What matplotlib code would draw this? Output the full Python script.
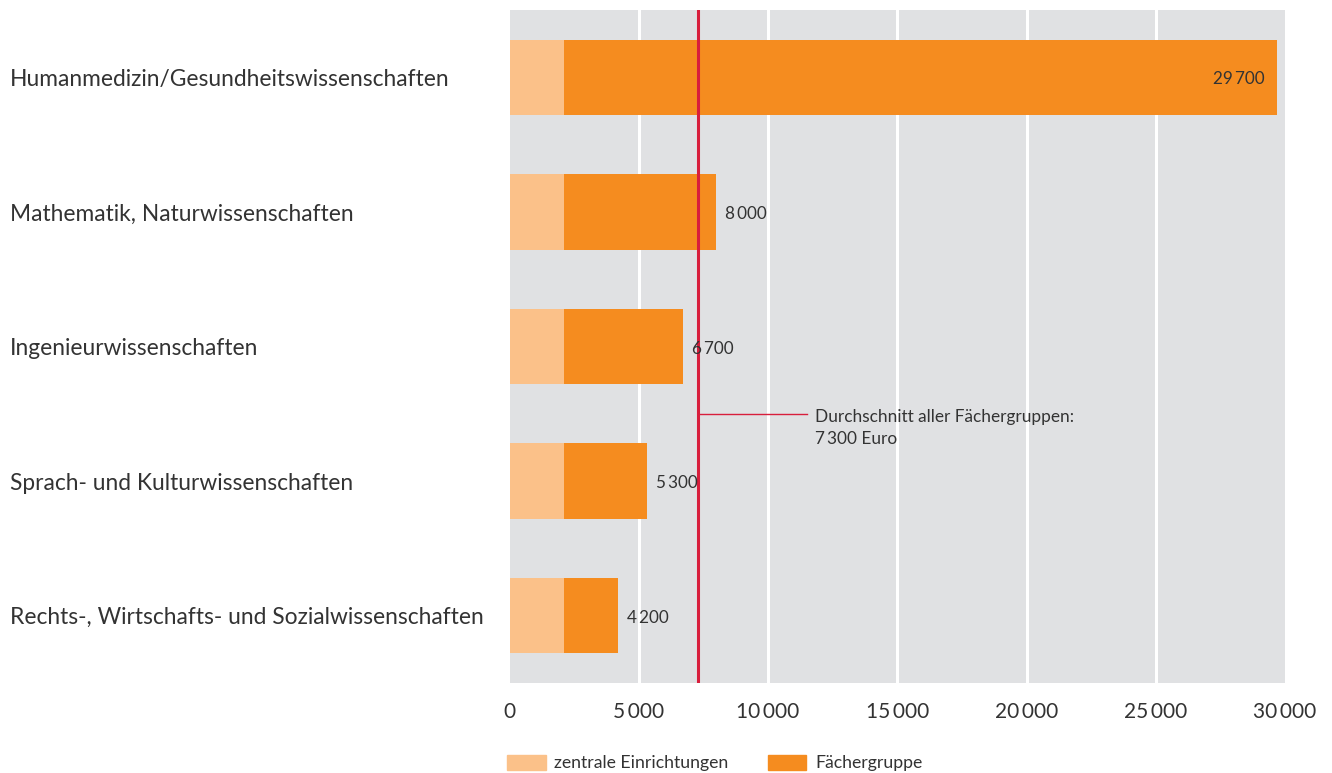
import numpy as np
import matplotlib.pyplot as plt
from matplotlib.patches import Patch

plt.rcParams['font.family'] = ['Lato', 'DejaVu Sans']

categories = [
    'Humanmedizin/Gesundheitswissenschaften',
    'Mathematik, Naturwissenschaften',
    'Ingenieurwissenschaften',
    'Sprach- und Kulturwissenschaften',
    'Rechts-, Wirtschafts- und Sozialwissenschaften',
]
totals = [29700, 8000, 6700, 5300, 4200]
central = [2100, 2100, 2100, 2100, 2100]
average = 7300
series_names = ['zentrale Einrichtungen', 'Fächergruppe']

LIGHT = '#FBC189'
DARK = '#F58C1F'
GREY = '#E0E1E3'
RED = '#D81E3C'
TXT = '#333333'


def fmt(v):
    s = f'{int(v):,}'.replace(',', '\u2009')
    return s


def main():
    fig = plt.figure(figsize=(13.32, 7.73), dpi=100)
    ax = fig.add_axes([509.5 / 1332, 1 - 683 / 773, 775.5 / 1332, 673 / 773])
    ax.set_facecolor(GREY)
    for s in ax.spines.values():
        s.set_visible(False)

    y = np.arange(len(categories))
    rest = [t - c for t, c in zip(totals, central)]
    h = 0.56
    ax.barh(y, central, h, color=LIGHT, zorder=2)
    ax.barh(y, rest, h, left=central, color=DARK, zorder=2)

    ax.set_xlim(0, 30000)
    ax.set_ylim(len(categories) - 0.5, -0.5)
    xt = np.arange(0, 30001, 5000)
    ax.set_xticks(xt)
    ax.set_xticklabels([fmt(v) for v in xt], fontsize=15, color=TXT)
    ax.xaxis.grid(True, color='white', linewidth=2.2, zorder=1)
    ax.get_xgridlines()[0].set_visible(False)
    ax.get_xgridlines()[-1].set_visible(False)
    ax.set_axisbelow(True)
    ax.tick_params(axis='x', length=0, pad=14)

    ax.set_yticks(y)
    ax.set_yticklabels(categories, fontsize=16.4, color=TXT, ha='left')
    ax.tick_params(axis='y', length=0, pad=(509.5 - 10) * 0.72)

    # value labels
    for yi, t in zip(y, totals):
        if t > 20000:
            ax.text(t - 500, yi + 0.015, fmt(t), ha='right', va='center', fontsize=12.3, color=TXT, zorder=4)
        else:
            ax.text(t + 350, yi + 0.015, fmt(t), ha='left', va='center', fontsize=12.3, color=TXT, zorder=4)

    # average line
    ax.axvline(average, color=RED, linewidth=2.2, zorder=3)
    ay = 2.5
    ax.plot([average, average + 4200], [ay, ay], color=RED, linewidth=1, zorder=3)
    ax.text(average + 4500, ay - 0.035, 'Durchschnitt aller Fächergruppen:\n7\u2009300 Euro',
            ha='left', va='top', fontsize=12.4, color=TXT, linespacing=1.45,
            transform=ax.transData)

    handles = [Patch(color=LIGHT), Patch(color=DARK)]
    fig.legend(handles, series_names, loc='center left', ncol=2,
               bbox_to_anchor=(491 / 1332, 1 - 763 / 773), frameon=False,
               fontsize=12.7, handlelength=2.2, handleheight=1.0,
               handletextpad=0.5, columnspacing=2.2, labelcolor=TXT)

    fig.savefig('out.png', dpi=100)


if __name__ == "__main__":
    main()
